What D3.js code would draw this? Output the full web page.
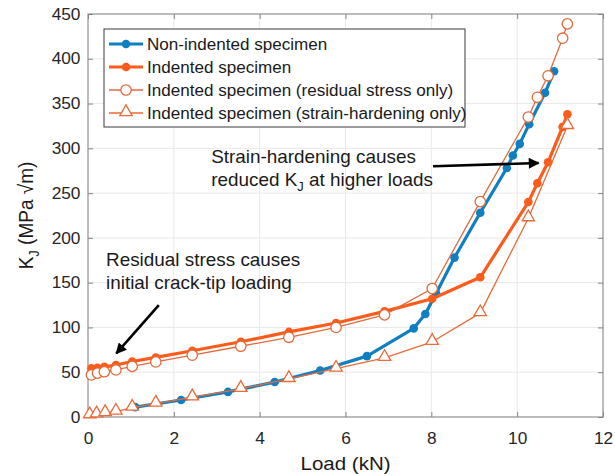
<!DOCTYPE html>
<html>
<head>
<meta charset="utf-8">
<script src="https://cdn.jsdelivr.net/npm/d3@7"></script>
<style>
  body { margin: 0; background: #fff; }
  text { font-family: "Liberation Sans", Arial, sans-serif; }
</style>
</head>
<body>
<svg id="chart" width="615" height="476"></svg>
<script>
// values (load in kN, K_J in MPa sqrt(m))
var nonIndLoad = [1.1, 2.17, 3.26, 4.35, 5.41, 6.5, 7.59, 7.86, 8.11, 8.54, 9.14, 9.76, 9.9, 10.06, 10.28, 10.65, 10.86];
var nonIndK    = [11, 19, 28, 39, 52, 68, 99, 115, 138, 178, 228, 278, 292, 305, 327, 362, 386];

var indLoad = [0.08, 0.22, 0.38, 0.65, 1.03, 1.58, 2.43, 3.56, 4.68, 5.78, 6.91, 8.02, 9.14, 10.26, 10.47, 10.72, 11.06, 11.17];
var indK    = [54.5, 55, 56, 58, 62, 66.5, 74, 84, 95, 105, 118, 132, 156, 240, 261, 284.5, 324, 338];

var resLoad = [0.08, 0.22, 0.38, 0.65, 1.03, 1.58, 2.43, 3.56, 4.68, 5.78, 6.91, 8.02, 9.14, 10.26, 10.47, 10.72, 11.06, 11.17];
var resK    = [47, 49, 50.5, 52.5, 56.5, 61.5, 69, 79, 89, 100, 114, 143.5, 240.5, 335, 357, 381, 423, 439];

var shLoad = [0.04, 0.2, 0.4, 0.65, 1.03, 1.58, 2.43, 3.56, 4.68, 5.78, 6.91, 8.02, 9.14, 10.26, 11.17];
var shK    = [2, 3, 4.5, 6, 10.5, 15, 22, 31.5, 42.5, 54, 66, 84, 116, 222, 325];

var xTicks = [0, 2, 4, 6, 8, 10, 12];
var yTicks = [0, 50, 100, 150, 200, 250, 300, 350, 400, 450];

var seriesNames = ["Non-indented specimen", "Indented specimen",
                   "Indented specimen (residual stress only)", "Indented specimen (strain-hardening only)"];

// layout
var margin_l = 88, margin_r = 12, margin_t = 14, margin_b = 59;
var width = 615, height = 476;
var SX = 1.08; // reference text is slightly stretched horizontally

var svg = d3.select("#chart");
var graph_width = width - margin_l - margin_r,
    graph_height = height - margin_t - margin_b;

var x = d3.scaleLinear().domain([0, 12]).range([margin_l, margin_l + graph_width]);
var y = d3.scaleLinear().domain([0, 450]).range([margin_t + graph_height, margin_t]);

function zip(a, b) { return a.map(function(v, i) { return [v, b[i]]; }); }

var series = [
  {name: seriesNames[0], pts: zip(nonIndLoad, nonIndK), color: "#0f7fc1", lw: 3.2, marker: "dot"},
  {name: seriesNames[1], pts: zip(indLoad, indK), color: "#fb5c1c", lw: 3.2, marker: "dot"},
  {name: seriesNames[2], pts: zip(resLoad, resK), color: "#e3693a", lw: 1.3, marker: "circle"},
  {name: seriesNames[3], pts: zip(shLoad, shK), color: "#ea6a38", lw: 1.3, marker: "tri"}
];

// grid
svg.append("g").selectAll("line").data(xTicks).enter().append("line")
  .attr("x1", d => x(d)).attr("x2", d => x(d))
  .attr("y1", y(0)).attr("y2", y(450))
  .attr("stroke", "#e8e8e8").attr("stroke-width", 1);
svg.append("g").selectAll("line").data(yTicks).enter().append("line")
  .attr("y1", d => y(d)).attr("y2", d => y(d))
  .attr("x1", x(0)).attr("x2", x(12))
  .attr("stroke", "#e8e8e8").attr("stroke-width", 1);

// axes (ticks inward, box on all sides)
var axisColor = "#858585";
function styleAxis(g) {
  g.select(".domain").remove();
  g.selectAll(".tick line").attr("stroke", axisColor);
  g.selectAll(".tick text").attr("fill", "#262626").attr("font-size", 16)
    .attr("font-family", "Liberation Sans, Arial, sans-serif");
}
svg.append("g").attr("transform", "translate(0," + y(0) + ")")
  .call(d3.axisBottom(x).tickValues(xTicks).tickSize(-5).tickPadding(16))
  .call(styleAxis)
  .selectAll(".tick text").attr("transform", "scale(" + SX + ",1)");
svg.append("g").attr("transform", "translate(0," + y(450) + ")")
  .call(d3.axisTop(x).tickValues(xTicks).tickSize(-5).tickFormat(""))
  .call(styleAxis);
svg.append("g").attr("transform", "translate(" + x(0) + ",0)")
  .call(d3.axisLeft(y).tickValues(yTicks).tickSize(-5).tickPadding(7))
  .call(styleAxis)
  .selectAll(".tick text").attr("transform", "scale(" + SX + ",1)");
svg.append("g").attr("transform", "translate(" + x(12) + ",0)")
  .call(d3.axisRight(y).tickValues(yTicks).tickSize(-5).tickFormat(""))
  .call(styleAxis);
svg.append("rect")
  .attr("x", x(0)).attr("y", y(450))
  .attr("width", x(12) - x(0)).attr("height", y(0) - y(450))
  .attr("fill", "none").attr("stroke", axisColor).attr("stroke-width", 1);

// series
var line = d3.line().x(d => x(d[0])).y(d => y(d[1]));
var triPath = d3.symbol().type(d3.symbolTriangle).size(66)();

function drawMarker(g, s, cx, cy) {
  if (s.marker === "dot") {
    g.append("circle").attr("cx", cx).attr("cy", cy).attr("r", 4.3).attr("fill", s.color);
  } else if (s.marker === "circle") {
    g.append("circle").attr("cx", cx).attr("cy", cy).attr("r", 5.2)
      .attr("fill", "#fff").attr("stroke", s.color).attr("stroke-width", 1.3);
  } else {
    g.append("path").attr("d", triPath).attr("transform", "translate(" + cx + "," + (cy - 1) + ")")
      .attr("fill", "#fff").attr("stroke", s.color).attr("stroke-width", 1.3);
  }
}

series.forEach(function(s) {
  var g = svg.append("g");
  g.append("path").datum(s.pts).attr("d", line)
    .attr("fill", "none").attr("stroke", s.color).attr("stroke-width", s.lw)
    .attr("stroke-linejoin", "round");
  s.pts.forEach(function(p) { drawMarker(g, s, x(p[0]), y(p[1])); });
});

// text helper: stretched text, vertically centred
function stext(parent, px, py, str, size, anchor) {
  return parent.append("text")
    .attr("transform", "translate(" + px + "," + py + ") scale(" + SX + ",1)")
    .attr("font-size", size).attr("fill", "#1a1a1a")
    .attr("text-anchor", anchor || "start").attr("dy", "0.35em")
    .text(str);
}

// legend
var leg = svg.append("g");
leg.append("rect").attr("x", 104).attr("y", 29).attr("width", 361).attr("height", 98)
  .attr("fill", "#fff").attr("stroke", "#3a3a3a").attr("stroke-width", 1);
series.forEach(function(s, i) {
  var cy = 44 + i * 23;
  leg.append("line").attr("x1", 109).attr("x2", 143).attr("y1", cy).attr("y2", cy)
    .attr("stroke", s.color).attr("stroke-width", s.lw);
  drawMarker(leg, s, 126, cy);
  stext(leg, 147, cy, s.name, 15.8);
});

// axis labels
stext(svg, x(6), 463, "Load (kN)", 19, "middle");
var yl = svg.append("text")
  .attr("transform", "translate(26," + y(225) + ") rotate(-90) scale(1," + SX + ")")
  .attr("font-size", 19).attr("fill", "#1a1a1a").attr("text-anchor", "middle").attr("dy", "0.35em");
yl.append("tspan").text("K");
yl.append("tspan").attr("font-size", 13).attr("dy", 5).text("J");
yl.append("tspan").attr("dy", -5).text(" (MPa \u221Am)");

// annotations
var annStrain = {x: 2.87, y1: 290, y2: 265, from: [8.04, 280], to: [10.5, 283.6]};
var annResid  = {x: 0.42, y1: 176, y2: 150, from: [1.65, 125], to: [0.66, 71]};

svg.append("defs").append("marker")
  .attr("id", "head").attr("viewBox", "0 0 10 10").attr("refX", 9).attr("refY", 5)
  .attr("markerWidth", 5).attr("markerHeight", 4.2).attr("markerUnits", "strokeWidth")
  .attr("orient", "auto")
  .append("path").attr("d", "M0,0 L10,5 L0,10 Z").attr("fill", "#000");

stext(svg, x(annStrain.x), y(annStrain.y1), "Strain-hardening causes", 17.5);
var t2 = svg.append("text")
  .attr("transform", "translate(" + x(annStrain.x) + "," + y(annStrain.y2) + ") scale(" + SX + ",1)")
  .attr("font-size", 17.5).attr("fill", "#1a1a1a").attr("dy", "0.35em");
t2.append("tspan").text("reduced K");
t2.append("tspan").attr("font-size", 12).attr("dy", 5).text("J");
t2.append("tspan").attr("dy", -5).text(" at higher loads");

stext(svg, x(annResid.x), y(annResid.y1), "Residual stress causes", 17.5);
stext(svg, x(annResid.x), y(annResid.y2), "initial crack-tip loading", 17.5);

[annStrain, annResid].forEach(function(a) {
  svg.append("line")
    .attr("x1", x(a.from[0])).attr("y1", y(a.from[1]))
    .attr("x2", x(a.to[0])).attr("y2", y(a.to[1]))
    .attr("stroke", "#000").attr("stroke-width", 2.6)
    .attr("marker-end", "url(#head)");
});
</script>
</body>
</html>
